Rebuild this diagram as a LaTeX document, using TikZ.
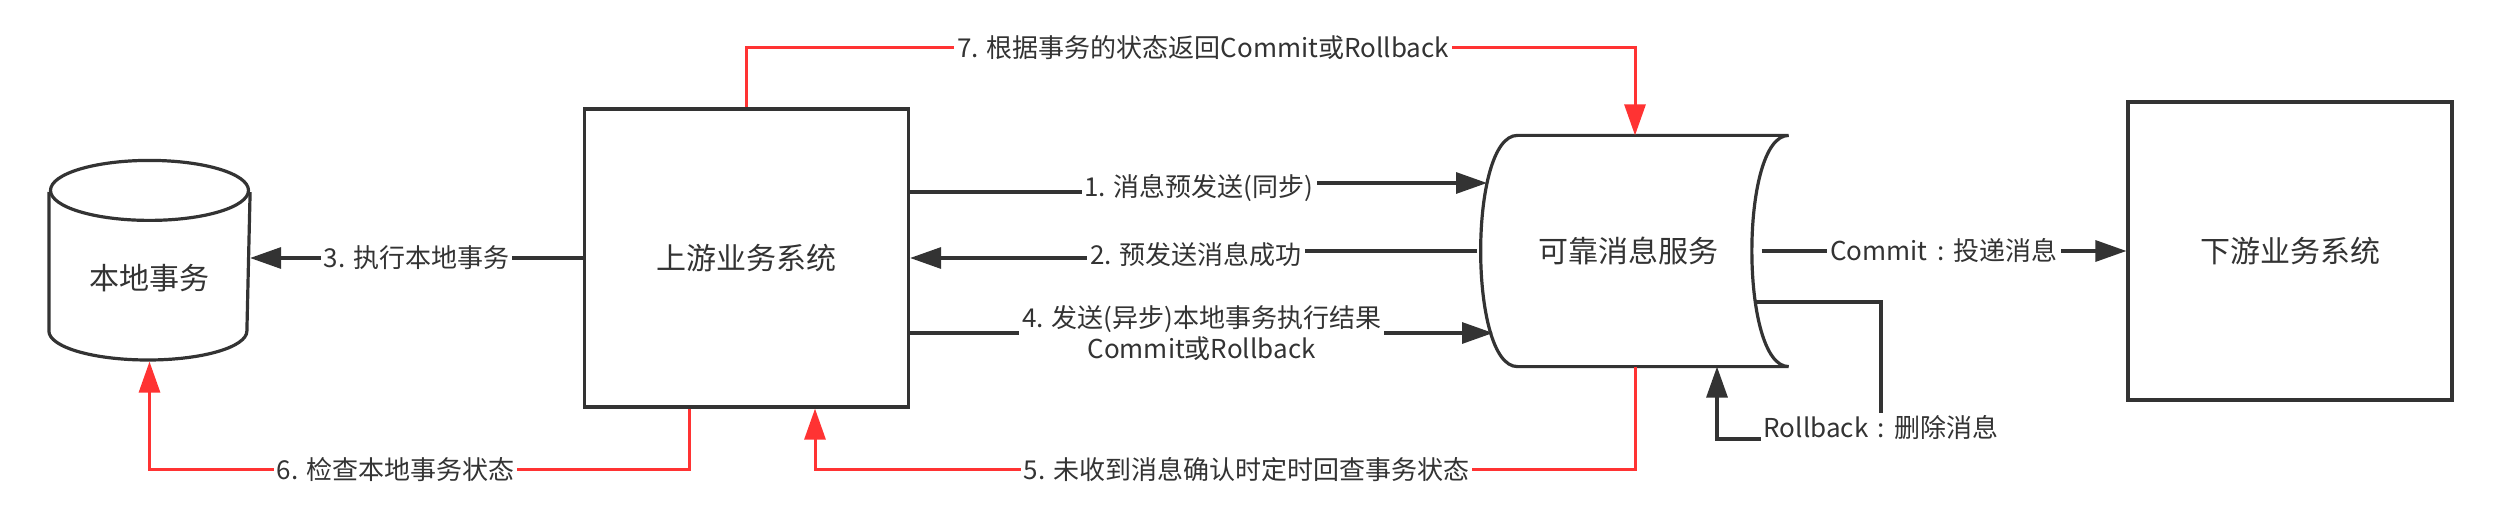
\documentclass[tikz,border=0pt]{standalone}
\usepackage{fontspec}
\newfontfamily\cjk{Noto Sans CJK SC}
\usepackage{tikz}
\usepackage{xcolor}
\tikzset{font={\cjk\fontsize{13pt}{15.6pt}\selectfont}}
\usetikzlibrary{arrows.meta}
\definecolor{dark}{HTML}{333333}
\definecolor{alert}{HTML}{FF3333}
\newcommand{\wcolon}{\makebox[1em]{:}}

\begin{document}
\begin{tikzpicture}[x=0.5pt,y=-0.5pt,->,>={Triangle[length=15.5pt,width=10.5pt]},
                    line width=1.6pt,color=dark,
                    sys node/.style={rectangle,draw,minimum width=162pt,minimum height=149pt,font=\cjk\fontsize{15pt}{18pt}\selectfont},
                    shape node/.style={inner sep=0pt,font=\cjk\fontsize{15pt}{18pt}\selectfont},
                    edge label/.style={fill=white,inner sep=1.5pt,text=dark},
                    red line/.style={alert,line width=1.5pt}]
  \useasboundingbox (0,0) rectangle (2509,518);

  \node[sys node] (up)   at (746.5,258) {上游业务系统};
  \node[sys node] (down) at (2290,251)  {下游业务系统};
  \node[shape node,minimum width=99pt,minimum height=99pt] (local) at (149.5,261) {};
  \node[shape node] (localtxt) at (149.5,278) {本地事务};
  \node[shape node,minimum width=158.5pt,minimum height=114pt] (msg) at (1628.5,251) {可靠消息服务};
  \coordinate (m1) at (1487,183);
  \coordinate (m2) at (1477,251);
  \coordinate (m4) at (1493,333);

  % cylinder and storage outlines
  \draw[-] (local.west |- 0,192) -- (local.west |- 0,331) arc[start angle=180,end angle=0,x radius=99,y radius=29] -- (local.east |- 0,192);
  \draw[-] (local.north) ++(0,30) ellipse [x radius=99,y radius=30];
  \draw[-] ([xshift=24.5pt]msg.north west) -- (msg.north east)
    .. controls ([xshift=-24.5pt]msg.north east) and ([xshift=-24.5pt]msg.south east) .. (msg.south east)
    -- ([xshift=24.5pt]msg.south west)
    .. controls (msg.south west) and (msg.north west) .. ([xshift=24.5pt]msg.north west) -- cycle;

  % black connectors
  \draw ([yshift=33pt]up.east) -- (1199,192) |- node[edge label,pos=0.25] (t1) {1. 消息预发送(同步)} (m1);
  \draw (m2) -- (1196,251) |- node[edge label,pos=0.25] (t2) {2. 预发送消息成功} (up.east);
  \draw (up.west) -- node[edge label] (t3) {3. 执行本地事务} (up.west -| local.east);
  \draw ([yshift=-37.5pt]up.east) -- node[edge label,align=center] (t4) {4. 发送(异步)本地事务执行结果\\Commit或Rollback} (m4);
  \draw ([xshift=-13.5pt]msg.east) -- node[edge label] (tc) {Commit\wcolon 投递消息} (down.west);
  \draw ([xshift=-16.5pt,yshift=-25.5pt]msg.east) -| (1881,439)
    -| node[edge label,pos=0,yshift=5.5pt] (tr) {Rollback\wcolon 删除消息} ([xshift=44.25pt]msg.south);

  % red connectors
  \draw[red line] ([xshift=3.25pt]msg.south) -- ++(0,103) -| node[edge label,pos=0.237] (t5) {5. 未收到消息确认时定时回查事务状态} ([xshift=34.25pt]up.south);
  \draw[red line] ([xshift=-28.75pt]up.south) -- ++(0,61) -| node[edge label,pos=0.272] (t6) {6. 检查本地事务状态} (local.south);
  \draw[red line] (up.north) -- ++(0,-60) -| node[edge label,pos=0.257] (t7) {7. 根据事务的状态返回Commit或Rollback} ([xshift=3.25pt]msg.north);
\end{tikzpicture}
\end{document}
